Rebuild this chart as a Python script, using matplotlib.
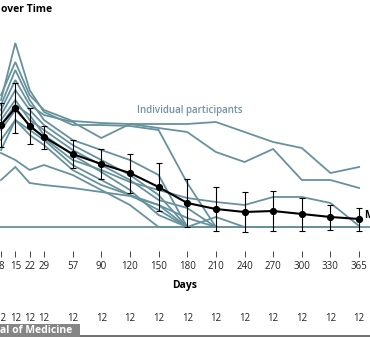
import numpy as np
import matplotlib.pyplot as plt
from matplotlib.patches import Rectangle

plt.rcParams['font.family'] = ['Open Sans', 'DejaVu Sans']

# Study days with measurements
days = [8, 15, 22, 29, 57, 90, 120, 150, 180, 210, 240, 270, 300, 330, 365]
n_at_risk = [12] * len(days)

# Group mean and error bar half-widths
mean_vals = [102, 119, 101, 90, 73, 63, 54, 40, 24, 18, 15, 16, 13, 10, 8]
err_vals = [22, 25, 18, 11.5, 14, 15, 19.5, 24, 24, 22, 20, 20, 16.5, 12.5, 11.5]

# Individual participants
p01 = [132, 165, 132, 117, 106, 104, 103, 103, 103, 105, 95, 85, 79, 54, 60]
p02 = [117, 147, 122, 112, 105, 89, 103, 99, 95, 75, 65, 78, 47, 47, 39]
p03 = [127, 184, 137, 115, 102, 102, 101, 97, 44, 0, 0, 0, 0, 0, 0]
p04 = [97, 117, 102, 89, 67, 57, 45, 37, 29, 25, 22, 30, 30, 24, 1]
p05 = [77, 107, 92, 82, 57, 42, 32, 17, 0, 10, 0, 0, 0, 0, 0]
p06 = [107, 127, 107, 97, 77, 62, 47, 27, 19, 0, 0, 0, 0, 0, 0]
p07 = [87, 107, 97, 87, 62, 47, 32, 22, 9, 0, 0, 0, 0, 0, 0]
p08 = [74, 67, 57, 62, 52, 37, 22, 0, 0, 0, 0, 0, 0, 0, 0]
p09 = [47, 60, 44, 42, 39, 35, 31, 22, 0, 0, 0, 0, 0, 0, 0]
p10 = [112, 137, 117, 102, 82, 67, 52, 32, 0, 0, 0, 0, 0, 0, 0]
p11 = [102, 122, 112, 92, 72, 55, 37, 12, 0, 0, 0, 0, 0, 0, 0]
p12 = [122, 157, 127, 107, 87, 77, 67, 52, 0, 0, 0, 0, 0, 0, 0]
participants = [p01, p02, p03, p04, p05, p06, p07, p08, p09, p10, p11, p12]

LINE_COLOR = '#67929d'

# weekly visits take half a step, monthly visits a full step
x = np.r_[np.arange(4) * 0.5, np.arange(11) + 2.5]

W, H = 370, 337
fig = plt.figure(figsize=(W / 100, H / 100), dpi=100)
ax = fig.add_axes([0, (H - 251) / H, 1, 251 / H])

for vals in participants:
    ax.plot(x, vals, color=LINE_COLOR, lw=1.3, solid_joinstyle='miter', zorder=2)
ax.axhline(0, color=LINE_COLOR, lw=1.3, zorder=2)

ax.errorbar(x, mean_vals, yerr=err_vals, color='black', lw=1.5, marker='o',
            markersize=4.2, elinewidth=0.8, capsize=2.5, capthick=0.8, zorder=4)

ax.text(4.75, 116, 'Individual participants', color='#7292a6', fontsize=7,
        fontweight='semibold', va='center', ha='left')
ax.text(12.68, mean_vals[-1] + 3, 'Mean', color='black', fontsize=7.5,
        fontweight='bold', va='center', ha='left', clip_on=False)

ax.set_xlim(-0.035, 12.88)
ax.set_ylim(-24, 227)
ax.set_xticks(x)
ax.set_xticklabels([str(d) for d in days])
ax.tick_params(axis='x', length=4, width=0.7, color='#444444', labelsize=7,
               pad=3, labelcolor='#222222')
ax.set_yticks([])
for side in ax.spines.values():
    side.set_visible(False)
ax.patch.set_alpha(0)

ax.set_xlabel('Days', fontsize=7.5, fontweight='bold', labelpad=6)

# participant counts under the axis
for xi, n in zip(x, n_at_risk):
    ax.text(xi, -0.27, str(n), transform=ax.get_xaxis_transform(),
            ha='center', va='center', fontsize=7, color='#222222', clip_on=False)

fig.text(0.003, 1 - 10 / H, 'over Time', fontsize=7.5, fontweight='bold',
         ha='left', va='center')

# source tag and frame edge at the bottom
fig.patches.append(Rectangle((0, 0), 80 / W, 13 / H, transform=fig.transFigure,
                             facecolor='#858585', edgecolor='none', zorder=5))
fig.text(0.0, 6.5 / H, 'al of Medicine', fontsize=7.5, fontweight='bold',
         color='white', ha='left', va='center', zorder=6)
fig.add_artist(plt.Line2D([80 / W, 1], [1.5 / H, 1.5 / H], color='#555555',
                          lw=1.2, transform=fig.transFigure))

fig.savefig('out.png', dpi=100)
